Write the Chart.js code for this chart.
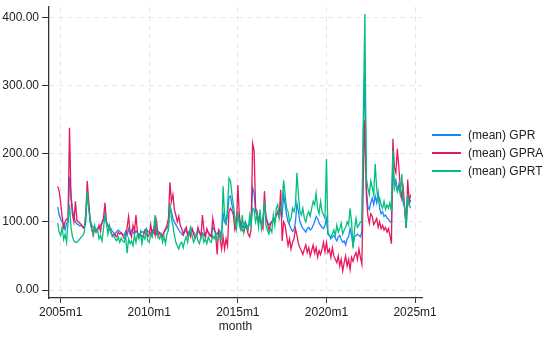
<!DOCTYPE html>
<html>
<head>
<meta charset="utf-8">
<script src="https://cdn.jsdelivr.net/npm/chart.js@4.4.1/dist/chart.umd.min.js"></script>
<style>
  html, body { margin: 0; padding: 0; background: #ffffff; }
  #wrap { width: 550px; height: 338px; position: relative; }
</style>
</head>
<body>
<div id="wrap"><canvas id="c" width="550" height="338"></canvas></div>
<script>
// Monthly series, first observation = 2004m11 (month index -2 relative to 2005m1)
const startYear = 2004;
const startMon = 11;

const GPR = [
  122, 110,
  104, 100, 96, 88, 98, 100, 166, 140, 118, 108, 100, 97,
  96, 94, 95, 93, 92, 100, 142, 122, 104, 95, 92, 90,
  88, 91, 92, 95, 98, 102, 112, 98, 94, 92, 90, 86,
  84, 82, 86, 88, 86, 84, 82, 80, 86, 80, 90, 82,
  88, 85, 82, 87, 84, 80, 83, 86, 84, 88, 90, 86,
  85, 82, 88, 84, 98, 82, 86, 84, 82, 80, 85, 88,
  90, 96, 124, 115, 105, 100, 96, 92, 88, 85, 82, 80,
  85, 88, 82, 86, 84, 90, 85, 82, 80, 86, 84, 82,
  84, 80, 82, 86, 85, 82, 80, 92, 88, 84, 82, 86,
  80, 78, 112, 100, 96, 110, 136, 138, 125, 115, 104, 100,
  112, 100, 95, 92, 98, 100, 95, 92, 98, 105, 150, 142,
  115, 110, 105, 100, 98, 102, 125, 110, 100, 95, 98, 100,
  102, 105, 110, 112, 108, 118, 110, 140, 125, 110, 100, 95,
  90, 86, 88, 100, 127, 115, 100, 95, 90, 88, 85, 90,
  92, 88, 90, 95, 100, 108, 105, 98, 95, 92, 90, 95,
  104, 82, 80, 75, 78, 80, 76, 72, 78, 80, 74, 70,
  72, 66, 75, 78, 90, 80, 65, 78, 80, 82, 80, 78,
  86, 230, 318, 150, 122, 118, 128, 135, 125, 138, 128, 143,
  120, 112, 115, 108, 110, 106, 104, 100, 99, 185, 150, 160,
  145, 155, 148, 140, 128, 120, 91, 140, 125, 132
];

const GPRA = [
  152, 145,
  128, 108, 92, 100, 104, 103, 238, 135, 110, 100, 130, 102,
  100, 98, 96, 92, 90, 112, 160, 130, 100, 92, 80, 90,
  85, 88, 95, 86, 100, 105, 128, 100, 95, 90, 85, 80,
  82, 80, 78, 85, 82, 84, 80, 76, 78, 92, 108, 85,
  78, 95, 86, 110, 84, 80, 82, 78, 80, 86, 88, 78,
  82, 96, 80, 90, 80, 100, 78, 84, 82, 78, 85, 90,
  95, 105, 158, 130, 140, 118, 110, 100, 108, 95, 90, 82,
  88, 92, 80, 85, 78, 90, 82, 76, 80, 92, 85, 78,
  110, 88, 76, 90, 84, 80, 78, 105, 92, 80, 52, 90,
  75, 60, 78, 60, 75, 65, 115, 120, 116, 110, 88, 95,
  154, 110, 92, 88, 85, 95, 90, 82, 78, 90, 215, 205,
  120, 115, 100, 110, 95, 90, 145, 105, 98, 88, 95, 100,
  105, 100, 110, 115, 108, 147, 72, 100, 95, 80, 65, 75,
  60, 70, 75, 90, 80, 68, 62, 58, 52, 60, 66, 55,
  62, 50, 58, 66, 54, 62, 48, 58, 52, 60, 70, 56,
  70, 55, 60, 48, 62, 50, 45, 40, 50, 35, 45, 28,
  40, 50, 35, 45, 30, 48, 42, 50, 55, 45, 60, 48,
  38, 170, 250, 140, 110, 98, 112, 108, 96, 100, 105, 92,
  100, 90, 95, 88, 92, 85, 90, 80, 68, 222, 180, 172,
  207, 180, 150, 135, 150, 120, 91, 162, 130, 140
];

const GPRT = [
  98, 85,
  80, 92, 74, 82, 70, 100, 125, 92, 78, 72, 70, 70,
  72, 75, 78, 80, 85, 110, 145, 120, 100, 88, 82, 95,
  85, 88, 75, 80, 72, 90, 110, 98, 82, 95, 85, 78,
  80, 75, 72, 78, 70, 76, 72, 70, 80, 54, 75, 68,
  72, 65, 80, 70, 82, 75, 85, 68, 80, 75, 88, 72,
  70, 82, 78, 90, 110, 85, 80, 75, 82, 70, 78, 68,
  82, 88, 128, 105, 95, 80, 70, 65, 60, 68, 70, 62,
  72, 78, 70, 85, 92, 80, 70, 75, 82, 72, 68, 78,
  82, 70, 75, 68, 78, 72, 70, 80, 75, 82, 72, 78,
  85, 76, 152, 110, 100, 120, 164, 160, 140, 125, 105, 90,
  115, 95, 88, 110, 85, 100, 92, 88, 110, 95, 120, 118,
  100, 110, 92, 118, 90, 105, 130, 95, 88, 82, 90, 85,
  110, 95, 120, 125, 105, 115, 130, 161, 140, 120, 115, 100,
  105, 120, 115, 125, 172, 140, 115, 110, 120, 105, 100, 110,
  115, 108, 120, 130, 125, 142, 120, 112, 130, 115, 110, 105,
  192, 85, 80, 78, 82, 88, 80, 95, 85, 90, 98, 82,
  88, 92, 100, 95, 120, 100, 62, 88, 105, 92, 95, 100,
  100, 260, 405, 165, 150, 140, 160, 150, 140, 185, 150, 130,
  135, 125, 120, 130, 118, 125, 120, 128, 115, 205, 150, 160,
  145, 150, 140, 170, 135, 120, 91, 140, 125, 120
];

const seriesNames = ['(mean) GPR', '(mean) GPRA', '(mean) GPRT'];
const seriesColors = ['#1a85ff', '#e8175d', '#00bf7f'];
const yTickValues = [0, 100, 200, 300, 400];
const xTickLabels = ['2005m1', '2010m1', '2015m1', '2020m1', '2025m1'];
const xTickValues = [0, 60, 120, 180, 240]; // months since 2005m1
const xTitle = 'month';

// month index relative to 2005m1 for each observation
const firstIndex = (startYear - 2005) * 12 + (startMon - 1);
function toPoints(arr) {
  return arr.map((v, i) => ({ x: firstIndex + i, y: v }));
}

const FONT = '"Liberation Sans", Arial, Helvetica, sans-serif';

const legendPlugin = {
  id: 'stataLegend',
  afterDraw(chart) {
    const ctx = chart.ctx;
    ctx.save();
    const rows = [135, 153, 171];
    seriesNames.forEach((name, i) => {
      ctx.strokeStyle = seriesColors[i];
      ctx.lineWidth = 2;
      ctx.beginPath();
      ctx.moveTo(432, rows[i]);
      ctx.lineTo(461, rows[i]);
      ctx.stroke();
      ctx.fillStyle = '#222';
      ctx.font = '12px ' + FONT;
      ctx.textBaseline = 'middle';
      ctx.textAlign = 'left';
      ctx.fillText(name, 468, rows[i] + 0.5);
    });
    ctx.restore();
  }
};

const datasets = [GPR, GPRA, GPRT].map((arr, i) => ({
  label: seriesNames[i],
  data: toPoints(arr),
  borderColor: seriesColors[i],
  backgroundColor: seriesColors[i],
  borderWidth: 1.3,
  pointRadius: 0,
  tension: 0,
  fill: false,
  order: 3 - i
}));

new Chart(document.getElementById('c'), {
  type: 'line',
  data: { datasets },
  options: {
    responsive: false,
    animation: false,
    devicePixelRatio: 1,
    layout: { padding: { left: 0, right: 128, top: 7, bottom: 0 } },
    plugins: {
      legend: { display: false },
      tooltip: { enabled: false }
    },
    scales: {
      x: {
        type: 'linear',
        min: -7.9,
        max: 244.7,
        afterBuildTicks: s => { s.ticks = xTickValues.map(v => ({ value: v })); },
        afterFit: s => { s.height = 40; s.paddingLeft = 0; s.paddingRight = 0; },
        ticks: {
          autoSkip: false,
          maxRotation: 0,
          padding: 2,
          color: '#222',
          font: { family: FONT, size: 12 },
          callback: (v) => { const k = xTickValues.indexOf(v); return k >= 0 ? xTickLabels[k] : ''; }
        },
        grid: {
          color: '#e6e6e6',
          lineWidth: 1,
          drawTicks: true,
          tickLength: 5,
          tickColor: '#333',
          tickWidth: 1,
          tickBorderDash: []
        },
        border: { display: true, color: '#333', width: 1.3, dash: [5, 4] },
        title: {
          display: true,
          text: xTitle,
          color: '#222',
          font: { family: FONT, size: 12 },
          padding: { top: 0, bottom: 4 }
        }
      },
      y: {
        type: 'linear',
        min: -11.7,
        max: 415.1,
        afterBuildTicks: s => { s.ticks = yTickValues.map(v => ({ value: v })); },
        afterFit: s => { s.width = 49; s.paddingTop = 0; s.paddingBottom = 0; },
        ticks: {
          padding: 3,
          color: '#222',
          font: { family: FONT, size: 12 },
          callback: v => Number(v).toFixed(2)
        },
        grid: {
          color: '#e6e6e6',
          lineWidth: 1,
          drawTicks: true,
          tickLength: 7,
          tickColor: '#333',
          tickWidth: 1,
          tickBorderDash: []
        },
        border: { display: true, color: '#333', width: 1.3, dash: [5, 4] }
      }
    }
  },
  plugins: [legendPlugin]
});
</script>
</body>
</html>
